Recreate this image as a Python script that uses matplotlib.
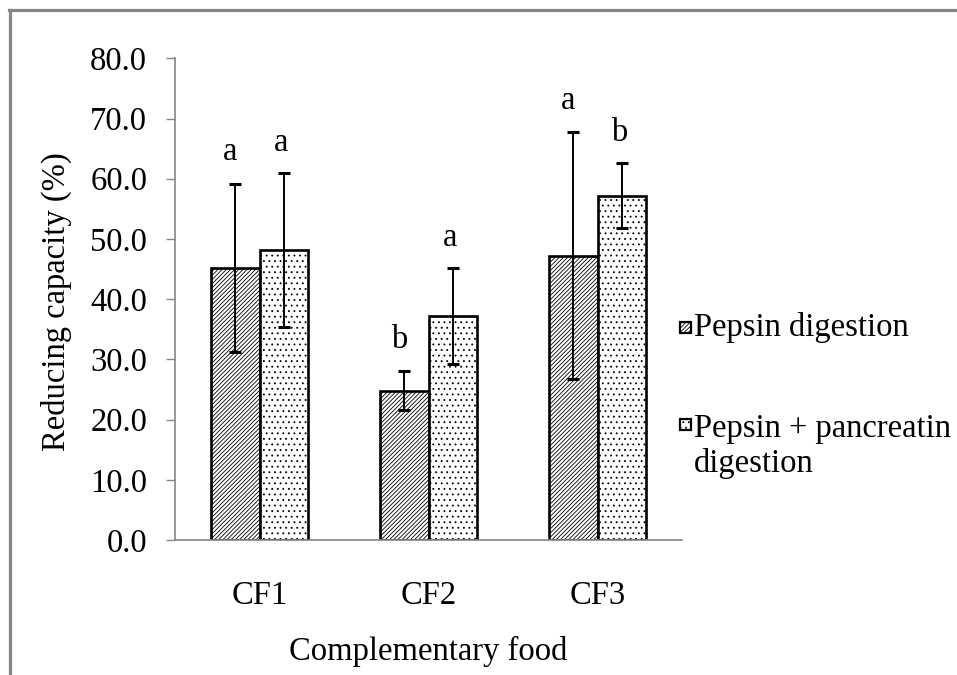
import matplotlib
matplotlib.use("Agg")
import matplotlib.pyplot as plt
import numpy as np
from matplotlib.patches import Rectangle
from matplotlib.lines import Line2D

# ---- data ----
categories = ["CF1", "CF2", "CF3"]
pepsin = [45.2, 24.8, 47.2]
pepsin_err = [14.0, 3.25, 20.5]
pancreatin = [48.2, 37.2, 57.2]
pancreatin_err = [12.75, 8.0, 5.45]
pepsin_letters = ["a", "b", "a"]
pancreatin_letters = ["a", "a", "b"]
series_labels = ["Pepsin digestion", "Pepsin + pancreatin\ndigestion"]
yticks = [0, 10, 20, 30, 40, 50, 60, 70, 80]
ylabel = "Reducing capacity (%)"
xlabel = "Complementary food"

plt.rcParams['font.family'] = ['Liberation Serif', 'DejaVu Serif']
plt.rcParams['hatch.linewidth'] = 0.6
FS = 23.5
GRAY = '#868686'

fig = plt.figure(figsize=(9.57, 6.75), dpi=100)
ax = fig.add_axes([175/957, 1-540/675, (682-175)/957, (540-58.3)/675])

x = np.arange(len(categories))
w = 0.286
b1 = ax.bar(x - w/2, pepsin, w, facecolor='white', edgecolor='black',
            linewidth=1.9, hatch='////////', zorder=2)
b2 = ax.bar(x + w/2, pancreatin, w, facecolor='white', edgecolor='black',
            linewidth=1.9, hatch='...', zorder=2)
ax.errorbar(x - w/2, pepsin, yerr=pepsin_err, fmt='none', ecolor='black',
            elinewidth=1.4, capsize=4, capthick=2.2, zorder=3)
ax.errorbar(x + w/2, pancreatin, yerr=pancreatin_err, fmt='none', ecolor='black',
            elinewidth=1.4, capsize=4, capthick=2.2, zorder=3)

for i in range(len(categories)):
    ax.text(x[i] - w/2 - 0.03, pepsin[i] + pepsin_err[i] + 5.2, pepsin_letters[i],
            ha='center', va='center', fontsize=FS)
    ax.text(x[i] + w/2 - 0.015, pancreatin[i] + pancreatin_err[i] + 5.0, pancreatin_letters[i],
            ha='center', va='center', fontsize=FS)

ax.set_xlim(-0.5, 2.5)
ax.set_ylim(0, 80)
ax.set_yticks(yticks)
ax.set_yticklabels([f"{v:.1f}" for v in yticks], fontsize=FS)
ax.set_xticks(x)
ax.set_xticklabels(categories, fontsize=FS)
ax.tick_params(axis='y', length=6.5, width=1.0, color=GRAY, pad=13.5)
ax.tick_params(axis='x', length=0, pad=29)
for s in ['top', 'right']:
    ax.spines[s].set_visible(False)
for s in ['left', 'bottom']:
    ax.spines[s].set_color(GRAY)
    ax.spines[s].set_linewidth(1.2)

ax.set_ylabel(ylabel, fontsize=FS)
ax.yaxis.set_label_coords((72-175)/507, 0.495)
ax.set_xlabel(xlabel, fontsize=FS)
ax.xaxis.set_label_coords(0.5, (540-636)/481.7)

# legend (manual, symbol aligned with first text line)
rects_y = [333, 430]
text_y = [328, 446]
for k, (bar, lab) in enumerate(zip([b1, b2], series_labels)):
    p = bar.patches[0]
    fig.add_artist(Rectangle((680/957, 1-rects_y[k]/675), 11/957, 11/675,
                             transform=fig.transFigure, facecolor='white',
                             edgecolor='black', linewidth=1.6,
                             hatch=p.get_hatch()))
    fig.text(694/957, 1-text_y[k]/675, lab, ha='left', va='center',
             fontsize=FS, linespacing=1.15)

# outer frame (left and top edges visible)
fig.add_artist(Line2D([9.5/957, 9.5/957], [0, 1-9.5/675], transform=fig.transFigure,
                      color=GRAY, linewidth=2.3))
fig.add_artist(Line2D([8.5/957, 1], [1-9.5/675, 1-9.5/675], transform=fig.transFigure,
                      color=GRAY, linewidth=2.3))

fig.savefig("out.png", dpi=100)
